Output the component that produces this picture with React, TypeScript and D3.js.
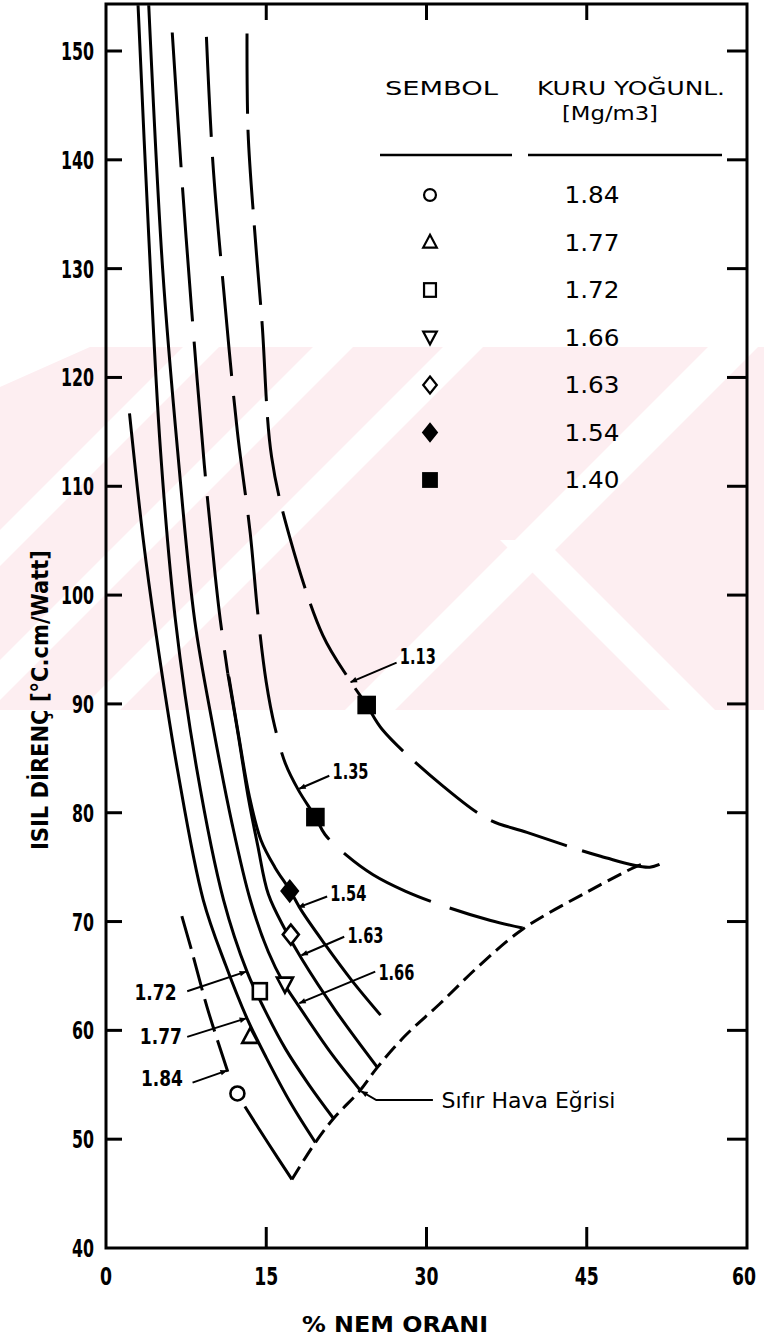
import React from 'react';
import * as d3 from 'd3';

const W = 764;
const H = 1341;

const xTicks = [0, 15, 30, 45, 60];
const yTicks = [40, 50, 60, 70, 80, 90, 100, 110, 120, 130, 140, 150];

// [nem %, isil direnc]
const curve113 = [[13.2, 151.6], [13.3, 142.5], [13.9, 133.7], [14.6, 125.1], [15.5, 112.7], [17.2, 105.3], [20.3, 96.3], [22.8, 92.2], [24.4, 89.9], [25.9, 87.6], [31.6, 82.4], [35.8, 79.4], [39.4, 78.2], [46.3, 76.0], [50.9, 75.0], [52.5, 75.6]];
const curve135 = [[9.4, 151.3], [10.0, 139.8], [11.0, 128.2], [12.3, 115], [13.5, 105.7], [14.2, 98.4], [15.0, 92], [15.8, 87.9], [16.8, 84.5], [18.0, 82.1], [19.6, 79.6], [20.5, 78.0], [22.5, 76.1], [25.0, 74.3], [28, 72.8], [32, 71.3], [36, 70.1], [39.0, 69.4]];
const curve163Dashed = [[6.2, 151.7], [7.1, 138.3], [8.0, 126.4], [9.2, 112], [10.2, 102], [10.7, 97.7], [11.4, 92.8]];
const curve163 = [[11.4, 92.8], [12.4, 87], [13.3, 81.5], [14.2, 77], [15.2, 72.5], [16.8, 69.2], [18.3, 66.6], [21.5, 61.8], [25.4, 56.6]];
const curve154 = [[11.5, 92.5], [12.4, 87.2], [13.4, 81.6], [14.5, 77.5], [15.8, 75], [17.2, 72.9], [18.3, 71], [20.5, 67.9], [23, 64.6], [25.7, 61.4]];
const curve166 = [[4.0, 154.2], [5.3, 130], [6.7, 113.3], [8.3, 97.7], [10, 88], [11.8, 79], [13.5, 72], [15.2, 67.2], [16.6, 64.4], [18.0, 62.3], [21, 58.0], [23.8, 54.5]];
const curve172 = [[3.0, 154.2], [4.0, 133], [5.1, 113.3], [6.5, 97.7], [8.5, 84], [11.0, 72], [13.2, 65.4], [14.8, 62], [16.8, 58.3], [19, 55], [21.3, 51.9]];
const curve177 = [[2.2, 116.7], [3.5, 105], [4.6, 97], [6.7, 83.9], [9.1, 72], [11.2, 66], [13.2, 61.1], [15, 57.5], [17.3, 53.3], [19.6, 49.7]];
const curve184Dashed = [[7.1, 70.5], [8.0, 67.4], [9.5, 62], [11.4, 56.2]];
const curve184 = [[13.0, 53.0], [15.2, 49.6], [17.4, 46.3]];
const zeroAirVoid = [[17.4, 46.3], [19.6, 49.7], [21.3, 51.9], [23.8, 54.5], [25.4, 56.6], [28, 59.5], [31.2, 62.4], [35, 66], [39.0, 69.3], [45.0, 72.7], [49.5, 75.0], [50.5, 75.4]];

const pointSymbols = ['circle', 'triUp', 'square', 'triDown', 'diamond', 'diamondFilled', 'squareFilled', 'squareFilled'];
const pointX = [12.3, 13.5, 14.4, 16.75, 17.3, 17.2, 19.6, 24.4];
const pointY = [54.2, 59.4, 63.6, 64.2, 68.8, 72.8, 79.6, 89.9];

const legendSymbols = ['circle', 'triUp', 'square', 'triDown', 'diamond', 'diamondFilled', 'squareFilled'];
const legendValues = ['1.84', '1.77', '1.72', '1.66', '1.63', '1.54', '1.40'];

const curveLabels = ['1.13', '1.35', '1.54', '1.63', '1.66', '1.72', '1.77', '1.84'];
const labelAt = [[27.5, 94.4], [21.2, 83.8], [21.0, 72.6], [22.6, 68.8], [25.5, 65.4], [6.6, 63.5], [7.1, 59.5], [7.2, 55.6]];
const arrowFrom = [[27.2, 93.8], [20.9, 83.4], [20.7, 72.3], [22.3, 68.6], [25.2, 65.4], [7.6, 63.6], [7.6, 59.4], [8.1, 55.2]];
const arrowTo = [[22.9, 92.0], [18.1, 82.2], [18.0, 71.3], [18.3, 66.9], [18.1, 62.5], [13.1, 65.4], [13.1, 61.1], [11.3, 56.3]];

const COND = "'DejaVu Sans Condensed', 'DejaVu Sans', sans-serif";

const x = d3.scaleLinear().domain([0, 60]).range([106, 747]);
const y = d3.scaleLinear().domain([40, 150]).range([1248, 51]);
const top = 4;

const line = d3
  .line<number[]>()
  .x((d) => x(d[0]))
  .y((d) => y(d[1]))
  .curve(d3.curveCatmullRom.alpha(0.5));

function Symbol({ type, cx, cy, s = 1 }: { type: string; cx: number; cy: number; s?: number }) {
  const filled = type.endsWith('Filled');
  const fill = filled ? '#000' : '#fff';
  const common = { fill, stroke: '#000', strokeWidth: 2.6 };
  let shape;
  if (type === 'circle') shape = <circle r={7} {...common} />;
  else if (type === 'triUp') shape = <polygon points="0,-9 8,6 -8,6" {...common} />;
  else if (type === 'triDown') shape = <polygon points="-8,-7 8,-7 0,8" {...common} />;
  else if (type === 'square') shape = <rect x={-7} y={-8} width={14} height={16} {...common} />;
  else if (type === 'squareFilled') shape = <rect x={-8} y={-8} width={16} height={16} {...common} />;
  else shape = <polygon points="0,-10 8,0 0,10 -8,0" {...common} />;
  return <g transform={`translate(${cx},${cy}) scale(${s})`}>{shape}</g>;
}

// faint watermark stripes (x + y = c), band between y 347 and 710
const wmTop = 347;
const wmBottom = 710;
const wmStripes = [[530, 36], [660, 40], [790, 40], [1055, 50]];

export default function App() {
  const solid = [curve163, curve154, curve166, curve172, curve177, curve184];
  const stroke = { fill: 'none', stroke: '#000', strokeWidth: 3, strokeLinecap: 'butt' as const };

  return (
    <svg width={W} height={H} style={{ display: 'block', position: 'absolute', left: 0, top: 0, background: '#fff' }}>
      <defs>
        <marker id="ah" viewBox="0 0 10 10" refX="9" refY="5" markerWidth="9" markerHeight="7" orient="auto" markerUnits="userSpaceOnUse">
          <path d="M0,1 L10,5 L0,9 Z" fill="#000" />
        </marker>
      </defs>

      {/* watermark */}
      <g>
        <polygon points={`0,${wmTop + 40} 90,${wmTop} ${W},${wmTop} ${W},${wmBottom} 0,${wmBottom}`} fill="#fdeef1" />
        {wmStripes.map(([c, w], i) => (
          <polygon
            key={'wm' + i}
            points={`${c - wmTop},${wmTop} ${c + w - wmTop},${wmTop} ${c + w - wmBottom},${wmBottom} ${c - wmBottom},${wmBottom}`}
            fill="#fff"
          />
        ))}
        <polygon points={`500,540 545,540 715,${wmBottom} 670,${wmBottom}`} fill="#fff" />
      </g>

      {/* frame */}
      <rect x={x(0)} y={top} width={x(60) - x(0)} height={y(40) - top} fill="none" stroke="#000" strokeWidth={3} />

      {/* ticks */}
      {yTicks.slice(1).map((t) => (
        <g key={'y' + t}>
          <line x1={x(0)} x2={x(0) + 16} y1={y(t)} y2={y(t)} stroke="#000" strokeWidth={3} />
          <line x1={x(60) - 20} x2={x(60)} y1={y(t)} y2={y(t)} stroke="#000" strokeWidth={3} />
        </g>
      ))}
      {xTicks.slice(1, -1).map((t) => (
        <g key={'x' + t}>
          <line x1={x(t)} x2={x(t)} y1={y(40)} y2={y(40) - 21} stroke="#000" strokeWidth={3} />
          <line x1={x(t)} x2={x(t)} y1={top} y2={top + 16} stroke="#000" strokeWidth={3} />
        </g>
      ))}
      {yTicks.map((t) => (
        <text key={'yl' + t} x={94} y={y(t)} dy="0.36em" textAnchor="end" fontFamily={COND} fontWeight="bold" fontSize={25} textLength={String(t).length * 11} lengthAdjust="spacingAndGlyphs">
          {t}
        </text>
      ))}
      {xTicks.map((t) => (
        <text key={'xl' + t} x={t === 60 ? x(t) - 3 : x(t)} y={1285} textAnchor="middle" fontFamily={COND} fontWeight="bold" fontSize={25} textLength={String(t).length * 12} lengthAdjust="spacingAndGlyphs">
          {t}
        </text>
      ))}

      {/* axis titles */}
      <text x={395} y={1332} textAnchor="middle" fontFamily={COND} fontWeight="bold" fontSize={21} textLength={186} lengthAdjust="spacingAndGlyphs">
        % NEM ORANI
      </text>
      <text transform="translate(48,700) rotate(-90)" textAnchor="middle" fontFamily={COND} fontWeight="bold" fontSize={23} textLength={300} lengthAdjust="spacingAndGlyphs">
        ISIL DİRENÇ [°C.cm/Watt]
      </text>

      {/* curves */}
      {solid.map((c, i) => (
        <path key={'s' + i} d={line(c) || ''} {...stroke} />
      ))}
      <path d={line(curve163Dashed) || ''} {...stroke} strokeDasharray="135,20" />
      <path d={line(curve135) || ''} {...stroke} strokeDasharray="100,20" />
      <path d={line(curve113) || ''} {...stroke} strokeDasharray="80,16" />
      <path d={line(curve184Dashed) || ''} {...stroke} strokeDasharray="34,9" />
      <path d={line(zeroAirVoid) || ''} {...stroke} strokeDasharray="15,7" />

      {/* points */}
      {pointSymbols.map((s, i) => (
        <Symbol key={'p' + i} type={s} cx={x(pointX[i])} cy={y(pointY[i])} />
      ))}

      {/* curve labels */}
      {curveLabels.map((l, i) => (
        <g key={'l' + i}>
          <line x1={x(arrowFrom[i][0])} y1={y(arrowFrom[i][1])} x2={x(arrowTo[i][0])} y2={y(arrowTo[i][1])} stroke="#000" strokeWidth={2} markerEnd="url(#ah)" />
          <text x={x(labelAt[i][0])} y={y(labelAt[i][1])} dy="0.36em" textAnchor={i < 5 ? 'start' : 'end'} fontFamily={COND} fontWeight="bold" fontSize={22} textLength={i < 5 ? 36 : 42} lengthAdjust="spacingAndGlyphs">
            {l}
          </text>
        </g>
      ))}
      <path d={`M${x(30.6)},${y(53.6)} L${x(25.3)},${y(53.6)} L${x(23.9)},${y(54.4)}`} fill="none" stroke="#000" strokeWidth={2} markerEnd="url(#ah)" />
      <text x={x(31.4)} y={y(53.6)} dy="0.36em" fontFamily={COND} fontSize={21} textLength={174} lengthAdjust="spacingAndGlyphs">
        Sıfır Hava Eğrisi
      </text>

      {/* legend */}
      <text x={385} y={95} fontFamily={COND} fontSize={20} textLength={113} lengthAdjust="spacingAndGlyphs">SEMBOL</text>
      <text x={537} y={95} fontFamily={COND} fontSize={20} textLength={188} lengthAdjust="spacingAndGlyphs">KURU YOĞUNL.</text>
      <text x={610} y={120} textAnchor="middle" fontFamily={COND} fontSize={20} textLength={96} lengthAdjust="spacingAndGlyphs">[Mg/m3]</text>
      <line x1={380} x2={512} y1={155} y2={155} stroke="#000" strokeWidth={2.5} />
      <line x1={528} x2={722} y1={155} y2={155} stroke="#000" strokeWidth={2.5} />
      {legendSymbols.map((s, i) => (
        <g key={'lg' + i}>
          <Symbol type={s} cx={430} cy={195 + i * 47.5} s={0.85} />
          <text x={592} y={195 + i * 47.5} dy="0.36em" textAnchor="middle" fontFamily={COND} fontSize={23} textLength={55} lengthAdjust="spacingAndGlyphs">
            {legendValues[i]}
          </text>
        </g>
      ))}
    </svg>
  );
}
